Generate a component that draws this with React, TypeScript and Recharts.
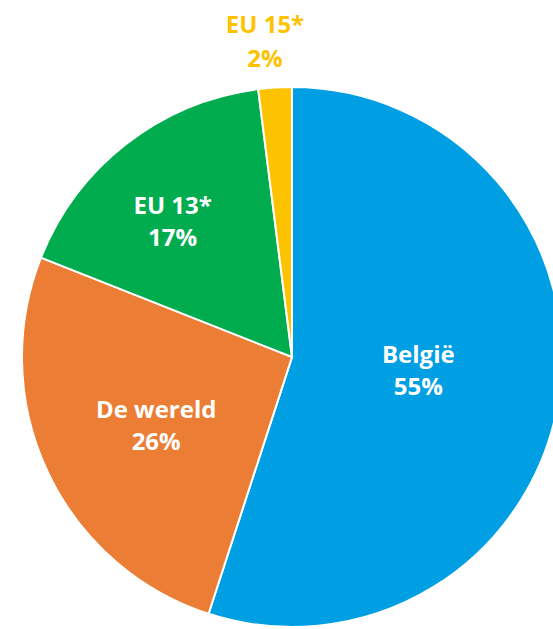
import React from 'react'
import { PieChart, Pie, Cell } from 'recharts'

const names = ['België', 'De wereld', 'EU 13*', 'EU 15*']
const shares = [55, 26, 17, 2]

const COLORS = ['#009FE3', '#EC7D34', '#00AC4E', '#FDC300']
// label placement: fraction of the radius along the mid angle, then a small nudge
const LABEL_R = [0.47, 0.556, 0.667, 1.178]
const LABEL_NUDGE = [
  [1, -7],
  [0, 4],
  [-9, 6],
  [-7, 0],
]

const data = names.map((name, i) => ({ name, value: shares[i] }))

const RADIAN = Math.PI / 180

const renderLabel = (props: any) => {
  const { cx, cy, midAngle, outerRadius, index, name, value } = props
  const r = outerRadius * LABEL_R[index]
  const x = cx + r * Math.cos(-midAngle * RADIAN) + LABEL_NUDGE[index][0]
  const y = cy + r * Math.sin(-midAngle * RADIAN) + LABEL_NUDGE[index][1]
  const fill = index === 3 ? COLORS[3] : '#fff'
  return (
    <text
      x={x}
      y={y}
      fill={fill}
      textAnchor="middle"
      fontFamily="'Open Sans', sans-serif"
      fontWeight={700}
      fontSize={24}
    >
      <tspan x={x} dy={-7}>
        {name}
      </tspan>
      <tspan x={x} dy={index === 3 ? 34 : 32}>
        {value}%
      </tspan>
    </text>
  )
}

export default function App() {
  return (
    <div style={{ position: 'absolute', left: 0, top: 0, width: 553, height: 629, background: '#fff' }}>
      <PieChart width={553} height={629} margin={{ top: 0, right: 0, bottom: 0, left: 0 }}>
        <Pie
          data={data}
          dataKey="value"
          nameKey="name"
          cx={292}
          cy={357}
          outerRadius={270}
          startAngle={90}
          endAngle={-270}
          stroke="#fff"
          strokeWidth={2}
          labelLine={false}
          label={renderLabel}
          isAnimationActive={false}
        >
          {data.map((d, i) => (
            <Cell key={d.name} fill={COLORS[i]} />
          ))}
        </Pie>
      </PieChart>
    </div>
  )
}
